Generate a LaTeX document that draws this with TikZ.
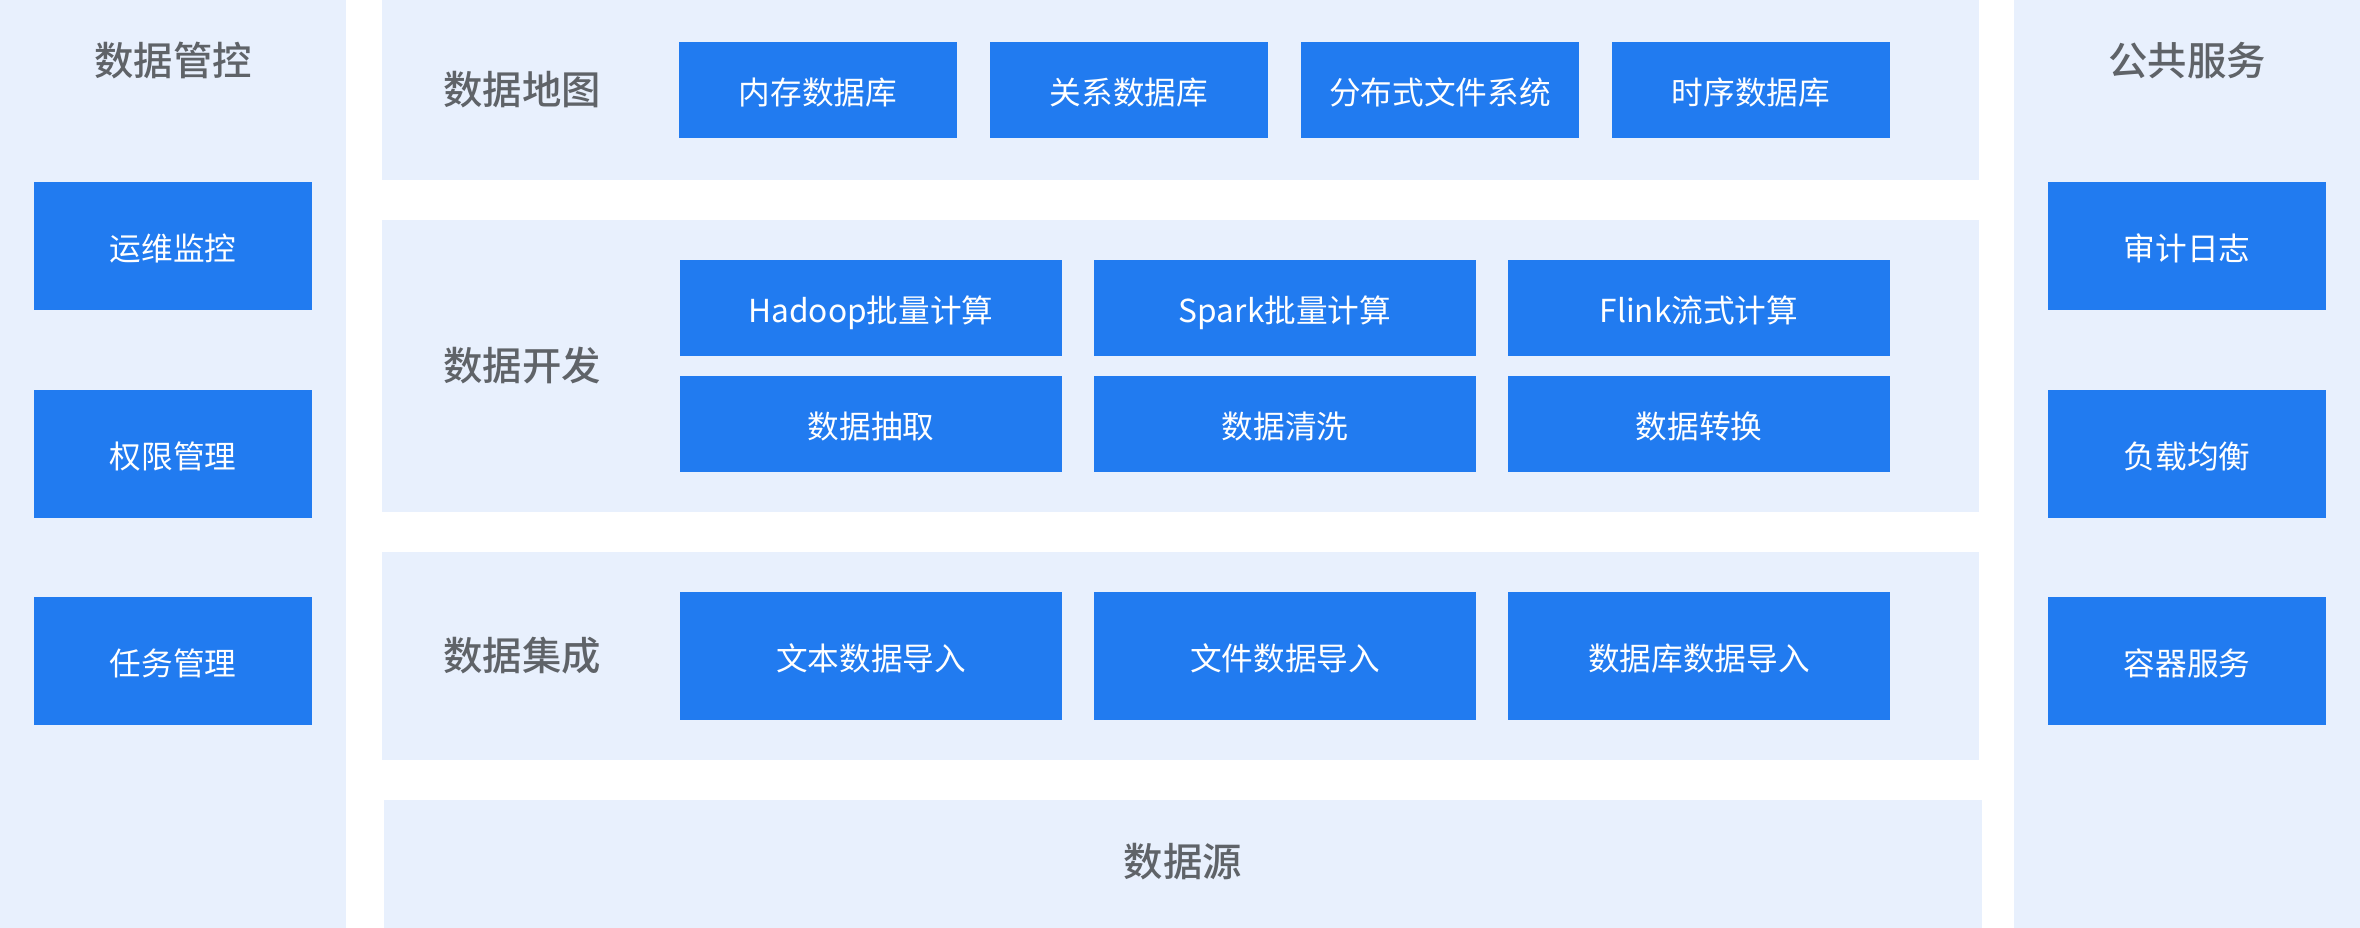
\documentclass[tikz,border=0pt]{standalone}
\usepackage{fontspec}
\setmainfont{Noto Sans CJK SC}
\newfontfamily\ttlfont{Noto Sans CJK SC}[UprightFont={* Medium}]
\usepackage{tikz}
\usetikzlibrary{positioning}
\definecolor{panelbg}{HTML}{E8F0FD}
\definecolor{blkblue}{HTML}{217BF0}
\definecolor{titlegray}{HTML}{5F6368}
\tikzset{
  panel/.style={fill=panelbg},
  ttl/.style={text=titlegray, font=\ttlfont\fontsize{11.2}{12}\selectfont},
  blk/.style={fill=blkblue, text=white, inner sep=0pt, text height=8.6pt, text depth=0.6pt, font=\fontsize{9}{10}\selectfont},
  sidebox/.style={blk, minimum width=2.78cm, minimum height=1.28cm},
  mapbox/.style={blk, minimum width=2.78cm, minimum height=0.96cm},
  devbox/.style={blk, minimum width=3.82cm, minimum height=0.96cm},
  intbox/.style={blk, minimum width=3.82cm, minimum height=1.28cm}
}
\begin{document}
\begin{tikzpicture}[x=0.01cm, y=-0.01cm]
\useasboundingbox (0,0) rectangle (2360,928);
\fill[panel](0,0) rectangle (346,928);
\fill[panel](2014,0) rectangle (2360,928);
\fill[panel](382,0) rectangle (1979,180);
\fill[panel](382,220) rectangle (1979,512);
\fill[panel](382,552) rectangle (1979,760);
\fill[panel](384,800) rectangle (1982,928);
\node (ctrl) at (173,61)[ttl]{数据管控};
\node (ops) at (173,246)[sidebox]{运维监控};
\node (perm) at (173,454)[sidebox]{权限管理};
\node (task) at (173,661)[sidebox]{任务管理};
\node (pub) at (2187,61)[ttl]{公共服务};
\node (audit) at (2187,246)[sidebox]{审计日志};
\node (lb) at (2187,454)[sidebox]{负载均衡};
\node (ctr) at (2187,661)[sidebox]{容器服务};
\node (map) at (522,90)[ttl]{数据地图};
\node (memdb) at (818,90)[mapbox]{内存数据库};
\node (reldb) at (1129,90)[mapbox]{关系数据库};
\node (dfs) at (1440,90)[mapbox]{分布式文件系统};
\node (tsdb) at (1751,90)[mapbox]{时序数据库};
\node (dev) at (522,366)[ttl]{数据开发};
\node (hadoop) at (871,308)[devbox]{Hadoop批量计算};
\node (spark) at (1285,308)[devbox]{Spark批量计算};
\node (flink) at (1699,308)[devbox]{Flink流式计算};
\node (extr) at (871,424)[devbox]{数据抽取};
\node (clean) at (1285,424)[devbox]{数据清洗};
\node (trans) at (1699,424)[devbox]{数据转换};
\node (integ) at (522,656)[ttl]{数据集成};
\node (txtin) at (871,656)[intbox]{文本数据导入};
\node (filein) at (1285,656)[intbox]{文件数据导入};
\node (dbin) at (1699,656)[intbox]{数据库数据导入};
\node (src) at (1183,862)[ttl]{数据源};
\end{tikzpicture}
\end{document}
